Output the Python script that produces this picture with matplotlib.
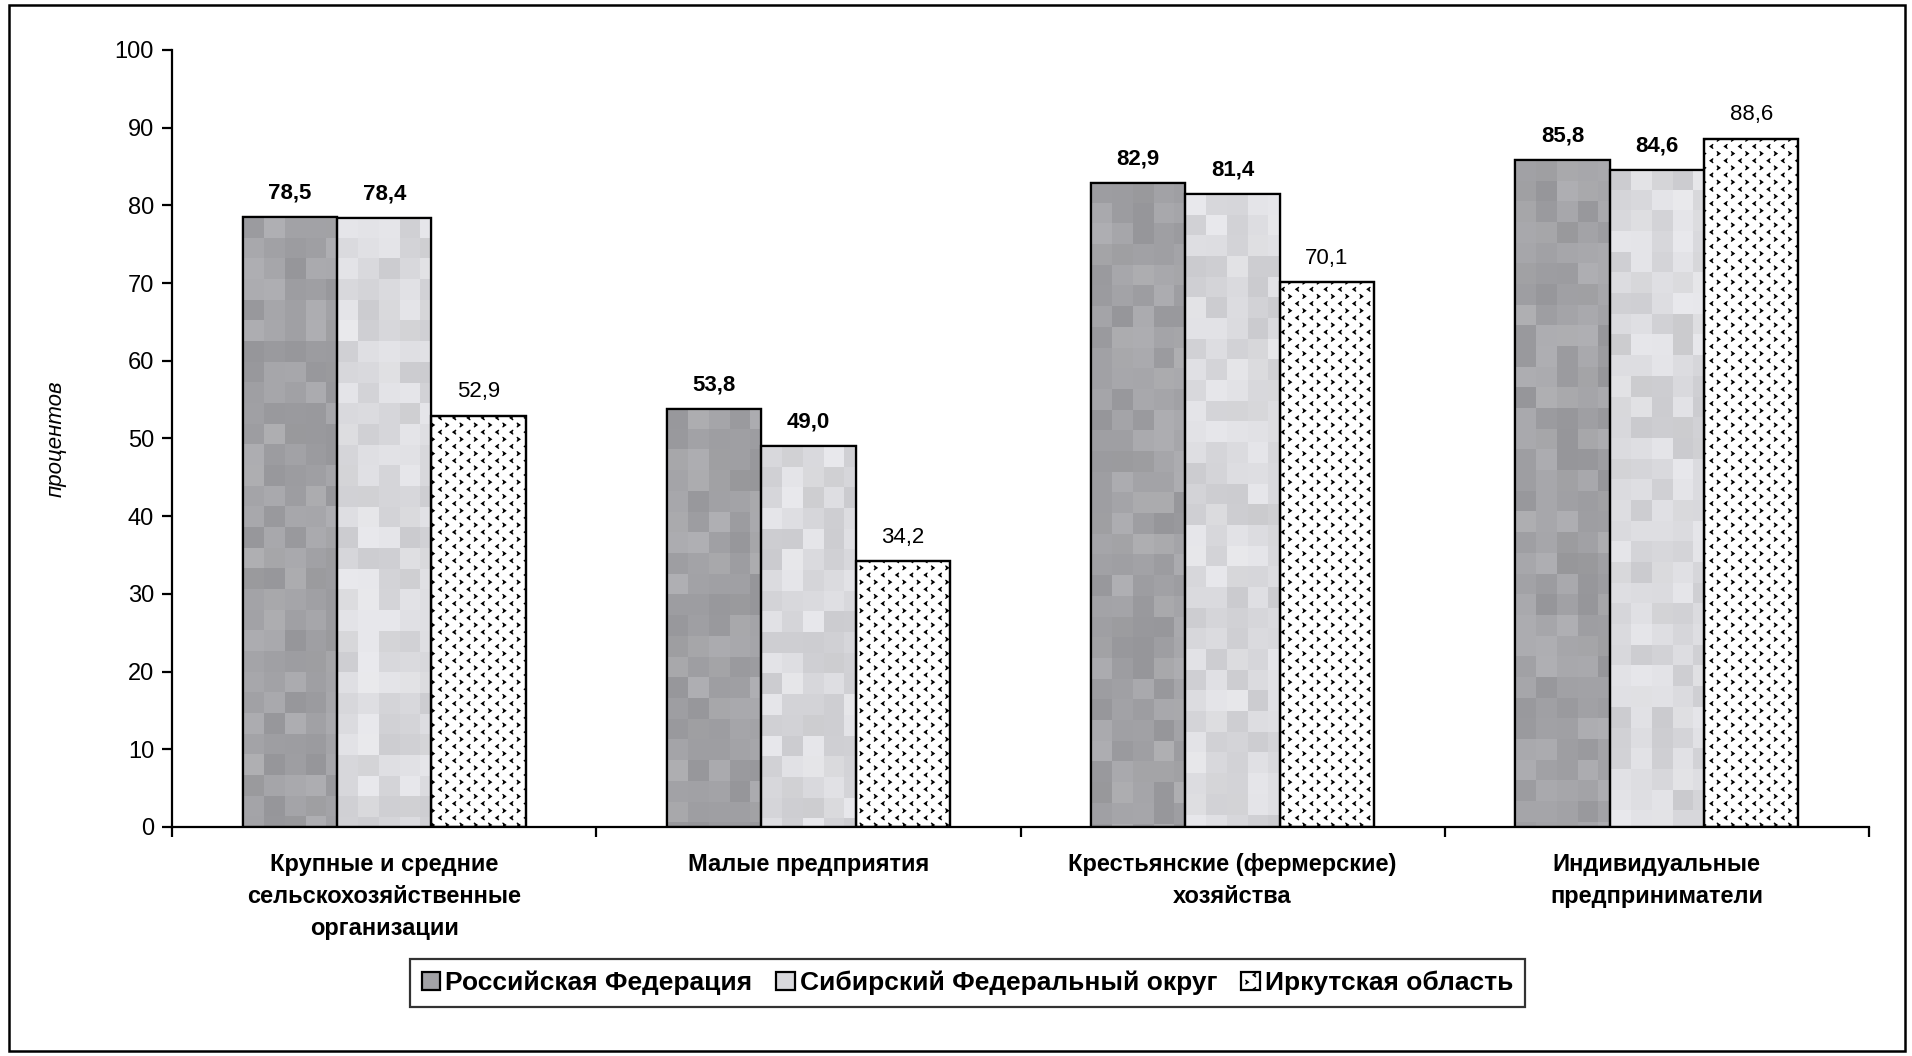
import warnings
import numpy as np
import matplotlib
matplotlib.use("Agg")
import matplotlib.pyplot as plt
import matplotlib.hatch as mhatch
from matplotlib.path import Path
from matplotlib.patches import Rectangle

warnings.filterwarnings("ignore")
plt.rcParams['font.family'] = ['Liberation Sans', 'DejaVu Sans']
plt.rcParams['hatch.linewidth'] = 0.9
plt.rcParams['hatch.color'] = '#3a3a3a'


class Chevrons(mhatch.HatchPatternBase):
    """Staggered rows of small '<' and '>' marks (hatch character 'c')."""
    rows = 14
    cols = 7

    def __init__(self, hatch, density):
        self.on = hatch.count('c') > 0
        self.num_vertices = self.rows * self.cols * 3 if self.on else 0
        self.filled = False

    def set_vertices_and_codes(self, vertices, codes):
        a, b = 0.013, 0.018
        k = 0
        for r in range(self.rows):
            y = (r + 0.5) / self.rows
            sgn = 1 if r % 2 == 0 else -1
            for c in range(self.cols):
                xc = (c + 0.3 + 0.5 * (r % 2)) / self.cols
                vertices[k] = (xc - sgn * a, y + b)
                vertices[k + 1] = (xc + sgn * a, y)
                vertices[k + 2] = (xc - sgn * a, y - b)
                codes[k] = Path.MOVETO
                codes[k + 1] = Path.LINETO
                codes[k + 2] = Path.LINETO
                k += 3


mhatch._hatch_types.append(Chevrons)

categories = ["Крупные и средние\nсельскохозяйственные\nорганизации",
              "Малые предприятия",
              "Крестьянские (фермерские)\nхозяйства",
              "Индивидуальные\nпредприниматели"]
series_names = ["Российская Федерация", "Сибирский Федеральный округ", "Иркутская область"]
rf = [78.5, 53.8, 82.9, 85.8]
sfo = [78.4, 49.0, 81.4, 84.6]
irk = [52.9, 34.2, 70.1, 88.6]
labels_rf = ["78,5", "53,8", "82,9", "85,8"]
labels_sfo = ["78,4", "49,0", "81,4", "84,6"]
labels_irk = ["52,9", "34,2", "70,1", "88,6"]
yticks = [0, 10, 20, 30, 40, 50, 60, 70, 80, 90, 100]

fig = plt.figure(figsize=(19.12, 10.56), dpi=100)
ax = fig.add_axes([0.090, 0.2169, 0.8875, 0.7358])

x = np.arange(len(categories))
w = 0.2225
offsets = [-w, 0, w]
values = [rf, sfo, irk]
texts = [labels_rf, labels_sfo, labels_irk]
base_colors = ['#a2a2a6', '#d8d8dc', 'white']
tex_ranges = [(0x94, 0xb2), (0xc8, 0xec), None]
weights = ['bold', 'bold', 'normal']


def texture(nr, nc, seed, lo, hi):
    i = np.arange(nr)[:, None]
    j = np.arange(nc)[None, :]
    h = np.sin(i * 12.9898 + j * 78.233 + seed * 37.719) * 43758.5453
    v = h - np.floor(h)
    v = 0.5 + (v - 0.5) * 0.85
    g = (lo + v * (hi - lo)) / 255.0
    img = np.stack([g, g, np.clip(g + 0.015, 0, 1)], axis=-1)
    return img


tile_w = w / 4.55
tile_h = 2.66
lw = 1.6
for s in range(3):
    if s < 2:
        bars = ax.bar(x + offsets[s], values[s], w, color=base_colors[s],
                      edgecolor='black', linewidth=lw, zorder=2, label=series_names[s])
        for k, b in enumerate(bars):
            nc = 5
            nr = int(np.ceil(b.get_height() / tile_h)) + 1
            img = texture(nr, nc, s * 10 + k + 1, *tex_ranges[s])
            x0 = b.get_x()
            top = b.get_height()
            im = ax.imshow(img, extent=(x0, x0 + nc * tile_w, top - nr * tile_h, top),
                           origin='upper', interpolation='nearest', aspect='auto', zorder=2.2)
            im.set_clip_path(b)
    else:
        ax.bar(x + offsets[s], values[s], w, color='white', hatch='c',
               edgecolor='black', linewidth=lw, zorder=2, label=series_names[s])
    ax.bar(x + offsets[s], values[s], w, fill=False, edgecolor='black',
           linewidth=lw, zorder=3)
    for k in range(len(x)):
        ax.text(x[k] + offsets[s], values[s][k] + 3.1, texts[s][k], ha='center', va='center',
                fontsize=16, fontweight=weights[s])

ax.set_xlim(-0.5, 3.5)
ax.set_ylim(0, 100)
ax.set_yticks(yticks)
ax.set_yticklabels([str(t) for t in yticks], fontsize=17)
ax.set_xticks(np.arange(-0.5, 4.0, 1.0))
ax.set_xticklabels([])
ax.set_xticks(x, minor=True)
ax.set_xticklabels(categories, minor=True, fontsize=17, fontweight='bold', linespacing=1.5)
ax.tick_params(axis='x', which='minor', length=0, pad=19)
ax.tick_params(axis='x', which='major', direction='out', length=7, width=lw)
ax.tick_params(axis='y', direction='out', length=7, width=lw, pad=6)
for sp in ['top', 'right']:
    ax.spines[sp].set_visible(False)
for sp in ['left', 'bottom']:
    ax.spines[sp].set_linewidth(lw)
ax.set_ylabel("процентов", fontsize=16, fontstyle='italic')
ax.yaxis.set_label_coords(-0.062, 0.5)

h, l = ax.get_legend_handles_labels()
leg = fig.legend(h, l, loc='center', bbox_to_anchor=(0.506, 0.069), ncol=3,
                 prop={'weight': 'bold', 'size': 19},
                 frameon=True, fancybox=False, edgecolor='black',
                 handlelength=0.7, handleheight=0.7, handletextpad=0.2,
                 columnspacing=0.9, borderpad=0.45)
leg.get_frame().set_linewidth(lw)

fig.patches.append(Rectangle((9 / 1912, 5 / 1056), 1896 / 1912, 1046 / 1056,
                             transform=fig.transFigure, fill=False,
                             edgecolor='black', linewidth=1.8))

fig.savefig("out.png", dpi=100)
